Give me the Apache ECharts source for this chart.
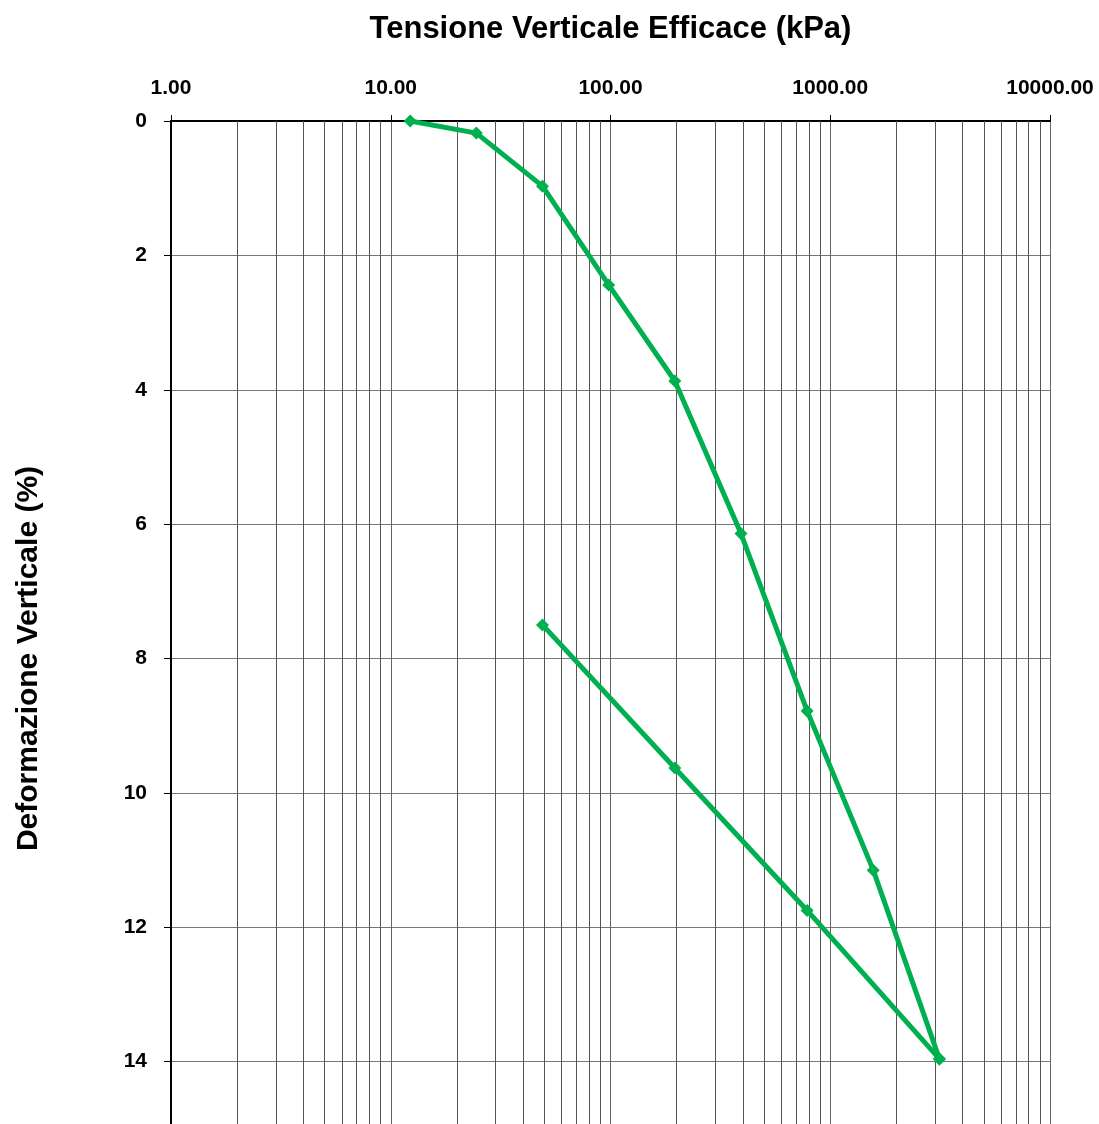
<!DOCTYPE html>
<html>
<head>
<meta charset="utf-8">
<script src="https://cdn.jsdelivr.net/npm/echarts@6/dist/echarts.min.js"></script>
<style>html,body{margin:0;padding:0;background:#fff}#c{width:1099px;height:1124px}</style>
</head>
<body>
<div id="c"></div>
<script>
// Data
const loadStress = [12.26, 24.52, 49.05, 98.1, 196.2, 392.4, 784.8, 1569.6, 3139.2];
const loadStrain = [0, 0.18, 0.97, 2.44, 3.87, 6.14, 8.78, 11.15, 13.96];
const unloadStress = [3139.2, 784.8, 196.2, 49.05];
const unloadStrain = [13.96, 11.75, 9.63, 7.5];
const decades = [1, 10, 100, 1000];
const minorSteps = [2, 3, 4, 5, 6, 7, 8, 9];
const xTitle = 'Tensione Verticale Efficace (kPa)';
const yTitle = 'Deformazione Verticale (%)';

const minorLines = [];
decades.forEach(d => minorSteps.forEach(k => minorLines.push({ xAxis: k * d })));

const green = '#00B050';
const font = '"Liberation Sans", Arial, sans-serif';
const chart = echarts.init(document.getElementById('c'));
chart.setOption({
  animation: false,
  grid: { left: 171, width: 879, top: 121, height: 1075, containLabel: false, outerBoundsMode: 'none' },
  xAxis: {
    type: 'log', logBase: 10, min: 1, max: 10000, position: 'top',
    name: xTitle, nameLocation: 'middle', nameGap: 76,
    nameTextStyle: { fontFamily: font, fontWeight: 'bold', fontSize: 31, color: '#000' },
    axisLine: { show: true, onZero: false, lineStyle: { color: '#000', width: 2 } },
    axisTick: { show: true, inside: false, length: 6, lineStyle: { color: '#000', width: 1 } },
    axisLabel: { margin: 22, fontFamily: font, fontWeight: 'bold', fontSize: 21, color: '#000',
      formatter: v => Number(v).toFixed(2) },
    splitLine: { show: true, lineStyle: { color: '#666', width: 1 } }
  },
  yAxis: {
    type: 'value', inverse: true, min: 0, max: 16, interval: 2,
    name: yTitle, nameLocation: 'middle', nameGap: 127, nameRotate: 90,
    nameTextStyle: { fontFamily: font, fontWeight: 'bold', fontSize: 30, color: '#000' },
    axisLine: { show: true, onZero: false, lineStyle: { color: '#000', width: 2 } },
    axisTick: { show: true, inside: false, length: 7, lineStyle: { color: '#000', width: 1 } },
    axisLabel: { margin: 24, fontFamily: font, fontWeight: 'bold', fontSize: 21, color: '#000',
      formatter: v => (v >= 16 ? '' : String(v)) },
    splitLine: { show: true, lineStyle: { color: '#777', width: 1 } }
  },
  series: [
    {
      type: 'line', data: [], z: 1, silent: true,
      markLine: {
        silent: true, symbol: ['none', 'none'], animation: false,
        label: { show: false },
        lineStyle: { color: '#555', width: 1, type: 'solid' },
        emphasis: { disabled: true },
        data: minorLines
      }
    },
    {
      type: 'line', z: 5,
      data: loadStress.map((x, i) => [x, loadStrain[i]]),
      symbol: 'diamond', symbolSize: 13,
      lineStyle: { color: green, width: 5 },
      itemStyle: { color: green }
    },
    {
      type: 'line', z: 5,
      data: unloadStress.map((x, i) => [x, unloadStrain[i]]),
      symbol: 'diamond', symbolSize: 13,
      lineStyle: { color: green, width: 5 },
      itemStyle: { color: green }
    }
  ]
});
</script>
</body>
</html>
